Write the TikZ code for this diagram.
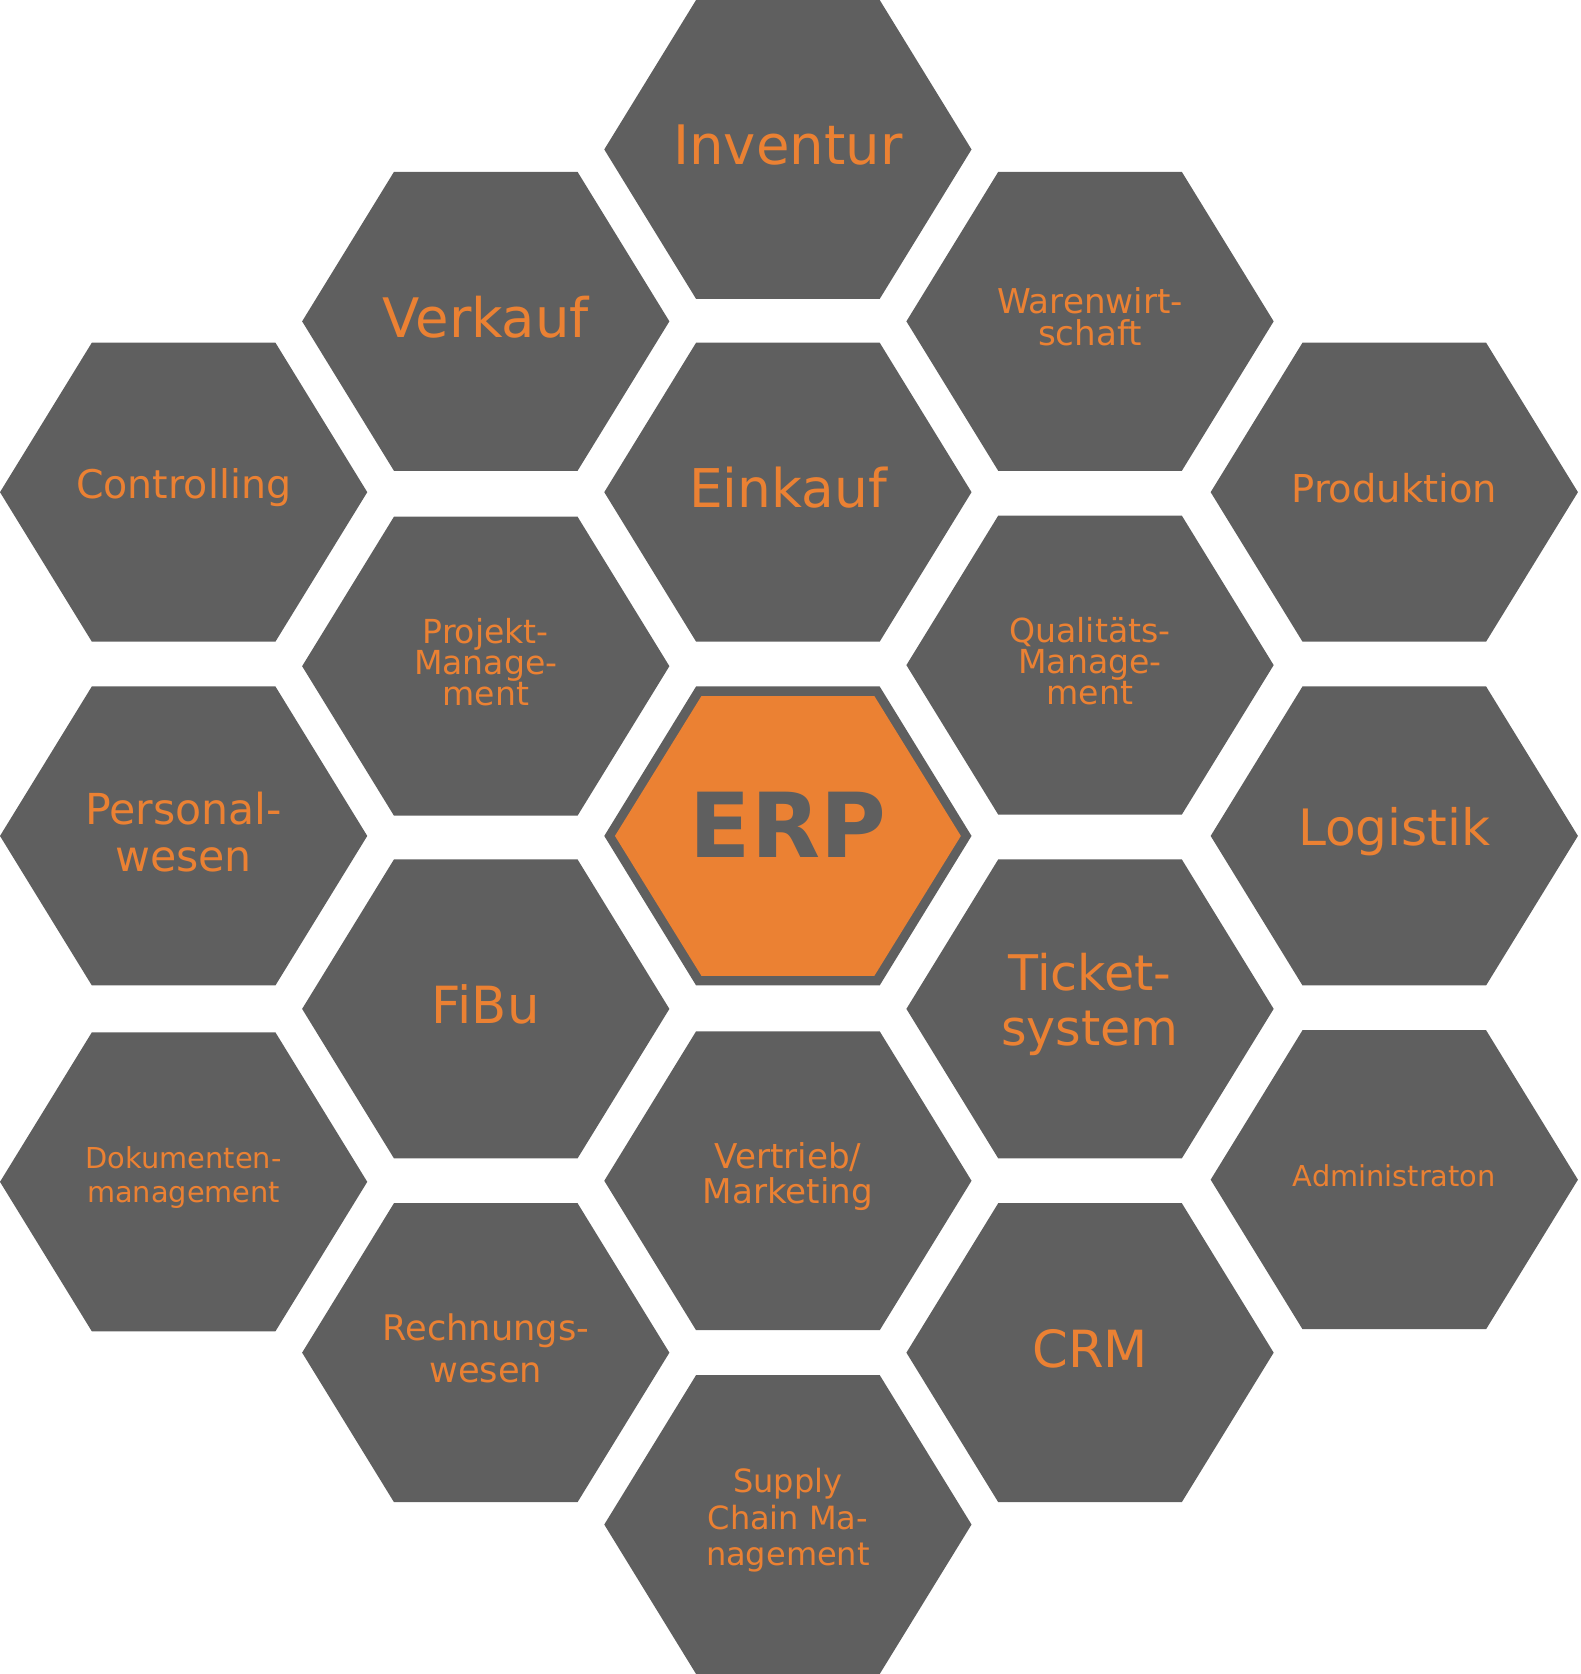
\documentclass[tikz,border=0pt]{standalone}
\usepackage{fontspec}
\setmainfont{DejaVu Sans}
\definecolor{hexgray}{HTML}{5F5F5F}
\definecolor{erporange}{HTML}{EB8133}
\tikzset{
  hexfill/.style={fill=hexgray},
  lbl/.style={text=erporange, align=center, inner sep=0pt},
}
\newcommand\hexa[5]{%
  \fill[hexfill] (#2pt-172pt,-#3pt) -- (#2pt-86pt,-#3pt+140pt) -- (#2pt+86pt,-#3pt+140pt)
    -- (#2pt+172pt,-#3pt) -- (#2pt+86pt,-#3pt-140pt) -- (#2pt-86pt,-#3pt-140pt) -- cycle;
  \node[lbl, font=\fontsize{#4}{#4}\selectfont] (#1) at (#2pt,-#3pt+4pt) {#5};}
\begin{document}
\begin{tikzpicture}[x=1pt,y=1pt]
\useasboundingbox (0,0) rectangle (1480,-1568);
\hexa{inv}{738}{140}{51}{Inventur}
\hexa{verk}{455}{301}{51}{Verkauf}
\hexa{ware}{1021}{301}{32}{Warenwirt-\\[-2pt]schaft}
\hexa{contr}{172}{461}{37}{Controlling}
\hexa{eink}{738}{461}{50}{Einkauf}
\hexa{prod}{1306}{461}{36}{Produktion}
\hexa{proj}{455}{624}{31}{Projekt-\\[-2pt]Manage-\\[-2pt]ment}
\hexa{qual}{1021}{623}{31}{Qualitäts-\\[-2pt]Manage-\\[-2pt]ment}
\hexa{pers}{172}{783}{40}{Personal-\\[4pt]wesen}
\hexa{log}{1306}{783}{47}{Logistik}
\hexa{fibu}{455}{945}{48}{FiBu}
\hexa{tick}{1021}{945}{46}{Ticket-\\[6pt]system}
\hexa{doku}{172}{1107}{27}{Dokumenten-\\[4pt]management}
\hexa{vert}{738}{1106}{32}{Vertrieb/\\[0pt]Marketing}
\hexa{admin}{1306}{1105}{27}{Administraton}
\hexa{rech}{455}{1267}{33}{Rechnungs-\\[6pt]wesen}
\hexa{crm}{1021}{1267}{48}{CRM}
\hexa{sup}{738}{1428}{30}{Supply\\[4pt]Chain Ma-\\[4pt]nagement}
% ERP
\fill[hexgray] (566,-783) -- (652,-643) -- (824,-643) -- (910,-783) -- (824,-923) -- (652,-923) -- cycle;
\fill[erporange] (576,-783) -- (657,-652) -- (819,-652) -- (900,-783) -- (819,-914) -- (657,-914) -- cycle;
\node[text=hexgray, inner sep=0pt, font=\fontsize{84}{84}\selectfont\bfseries] (erp) at (738,-773) {ERP};
\end{tikzpicture}
\end{document}
